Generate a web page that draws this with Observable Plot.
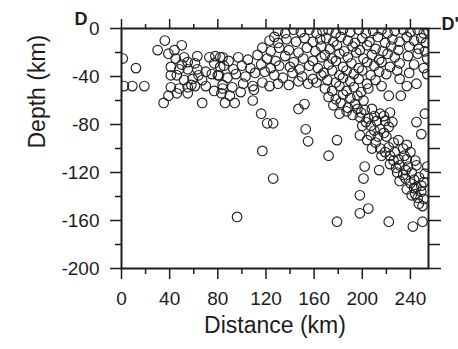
<!DOCTYPE html>
<html>
<head>
<meta charset="utf-8">
<script src="https://cdn.jsdelivr.net/npm/d3@7"></script>
<script src="https://cdn.jsdelivr.net/npm/@observablehq/plot@0.6"></script>
<style>
  html, body { margin: 0; padding: 0; background: #fff; }
  #chart { width: 458px; height: 349px; }
</style>
</head>
<body>
<div id="chart"></div>
<script>
// Tick values and labels
const xMajorTicks = [0, 40, 80, 120, 160, 200, 240];
const xMinorTicks = [20, 60, 100, 140, 180, 220];
const xTickLabels = ["0", "40", "80", "120", "160", "200", "240"];
const yMajorTicks = [0, -40, -80, -120, -160, -200];
const yMinorTicks = [-20, -60, -100, -140, -180];
const yTickLabels = ["0", "-40", "-80", "-120", "-160", "-200"];
const xTitle = "Distance (km)";
const yTitle = "Depth (km)";
const leftLabel = "D";
const rightLabel = "D'";

// Earthquake hypocentres [distance km, depth km]
const westScatter = [
  [1,-25],[12,-33],[2,-48],[9,-48],[19,-48],[36,-10],[30,-18],[50,-14],
  [35,-62],[67,-62],[86,-62],[94,-62],[109,-60],[116,-71],[121,-79],[126,-79],
  [117,-102],[126,-125],[96,-157]
];
const westCluster = [
  [39,-21],[44,-18],[45,-25],[52,-24],[55,-28],[63,-23],[61,-29],[41,-32],
  [48,-34],[55,-34],[63,-34],[73,-24],[78,-23],[84,-24],[77,-29],[82,-32],
  [41,-39],[46,-39],[52,-43],[59,-42],[64,-39],[67,-43],[75,-38],[81,-39],
  [41,-49],[48,-50],[55,-49],[61,-48],[70,-48],[77,-52],[84,-50],[46,-54],
  [55,-54],[39,-56],[50,-30],[58,-47],[70,-36]
];
const centralCluster = [
  [130,-2],[136,-4],[143,-1],[149,-3],[156,-1],[162,-4],[167,-2],[127,-7],
  [123,-10],[130,-12],[137,-9],[145,-11],[152,-8],[159,-11],[165,-9],
  [117,-16],[124,-19],[131,-16],[139,-18],[147,-20],[154,-16],[161,-19],
  [82,-24],[89,-27],[97,-24],[105,-26],[113,-22],[121,-25],[128,-27],[136,-23],
  [143,-28],[151,-25],[159,-27],[166,-24],
  [85,-31],[93,-34],[100,-31],[107,-33],[116,-30],[124,-33],[131,-31],[140,-32],
  [148,-34],[156,-31],[163,-33],
  [80,-39],[88,-41],[95,-38],[103,-40],[111,-37],[119,-36],[127,-39],[134,-41],
  [142,-37],[150,-40],[159,-42],[166,-39],
  [84,-47],[92,-49],[101,-46],[109,-48],[117,-45],[123,-48],[130,-46],[139,-47],
  [147,-44],[155,-46],[162,-45],
  [83,-54],[90,-56],[99,-53],[110,-51]
];
const eastCluster = [
  [172,-1],[178,-4],[184,-1],[190,-3],[197,-1],[203,-4],[209,-2],[216,-1],[221,-4],[227,-2],
  [234,-1],[240,-3],[246,-1],[251,-4],[255,-2],
  [170,-8],[176,-11],[182,-7],[188,-10],[194,-12],[200,-8],[206,-11],[213,-7],[219,-12],[225,-9],
  [231,-11],[237,-7],[243,-10],[249,-8],[253,-12],
  [166,-15],[173,-17],[179,-14],[185,-19],[192,-15],[198,-18],[204,-14],[211,-17],[217,-19],
  [224,-15],[230,-18],[239,-15],[247,-17],[252,-19],
  [169,-22],[175,-25],[181,-21],[188,-24],[195,-20],[201,-25],[208,-22],[214,-26],[221,-21],
  [227,-24],[238,-23],[246,-21],[254,-25],
  [172,-30],[178,-27],[184,-32],[191,-29],[197,-33],[204,-28],[210,-31],[216,-28],[223,-32],
  [231,-29],[243,-30],[251,-33],
  [168,-37],[175,-35],[181,-39],[187,-35],[193,-38],[200,-35],[207,-39],[214,-36],[220,-38],
  [229,-35],[239,-37],[254,-38],
  [171,-43],[178,-45],[184,-41],[190,-44],[197,-42],[204,-46],[211,-43],[231,-42],
  [216,-48],[237,-48],[245,-46],
  [169,-50],[175,-52],[181,-48],[187,-52],[193,-49],[199,-53],[205,-50],
  [222,-56],[232,-56],
  [172,-57],[178,-59],[184,-55],[190,-58],[196,-56],[201,-60],
  [176,-64],[182,-62],[188,-66],[194,-63],
  [181,-71],[187,-69],[192,-72]
];
const slab = [
  [196,-67],[202,-68],[208,-67],[215,-71],[223,-70],[198,-74],[205,-75],[212,-77],
  [219,-77],[225,-78],[200,-81],[207,-81],[215,-84],[222,-82],[198,-89],[207,-89],
  [213,-90],[220,-90],[230,-93],[237,-97],[208,-100],[215,-100],[222,-99],[227,-103],
  [234,-100],[240,-103],[216,-106],[223,-106],[230,-109],[237,-109],[244,-110],[223,-113],
  [231,-114],[238,-115],[245,-114],[254,-115],[229,-120],[234,-122],[241,-120],[247,-124],
  [252,-121],[231,-127],[240,-129],[245,-132],[251,-128],[237,-134],[244,-138],[249,-136],
  [241,-139],[247,-146],[251,-142],
  [199,-70],[210,-73],[218,-73],[203,-78],[210,-85],[218,-87],[204,-93],[211,-95],
  [226,-95],[219,-103],[226,-110],[235,-106],[228,-116],[236,-118],[243,-126],[236,-125],
  [249,-131],[246,-141],[243,-133],[250,-148]
];
const deepScatter = [
  [147,-67],[152,-63],[153,-84],[155,-94],[172,-106],[179,-93],[179,-161],[198,-139],
  [198,-154],[205,-150],[222,-161],[242,-165],[250,-161],[202,-115],[201,-125],[214,-118],
  [252,-71],[245,-78],[249,-88]
];

const quakes = [westScatter, westCluster, centralCluster, eastCluster, slab, deepScatter]
  .flat().map(([distance, depth]) => ({distance, depth}));

const ink = "#1c1c1c";
const fontFamily = "'Liberation Sans', Arial, Helvetica, sans-serif";

const chart = Plot.plot({
  width: 458,
  height: 349,
  marginLeft: 121,
  marginRight: 30,
  marginTop: 28,
  marginBottom: 81,
  style: {fontFamily, color: ink, background: "#fff", overflow: "visible"},
  x: {domain: [0, 255], axis: null},
  y: {domain: [-200, 0], axis: null},
  marks: [
    Plot.dot(quakes, {x: "distance", y: "depth", r: 4.8, stroke: "#222", strokeWidth: 1.15, fill: "none", clip: true}),
    // bottom axis
    Plot.axisX({anchor: "bottom", ticks: xMajorTicks, tickSize: 11, tickPadding: 12, fontSize: 19,
      tickFormat: (d, i) => xTickLabels[i], label: null, strokeWidth: 1.5}),
    Plot.axisX({anchor: "bottom", ticks: xMinorTicks, tickSize: 6, tickFormat: () => "", label: null, strokeWidth: 1.5}),
    // top axis
    Plot.axisX({anchor: "top", ticks: xMajorTicks, tickSize: 10, tickFormat: () => "", label: null, strokeWidth: 1.5}),
    Plot.axisX({anchor: "top", ticks: xMinorTicks, tickSize: 5, tickFormat: () => "", label: null, strokeWidth: 1.5}),
    // left axis
    Plot.axisY({anchor: "left", ticks: yMajorTicks, tickSize: 11, tickPadding: 11, fontSize: 19,
      tickFormat: (d, i) => yTickLabels[i], label: null, strokeWidth: 1.5}),
    Plot.axisY({anchor: "left", ticks: yMinorTicks, tickSize: 6, tickFormat: () => "", label: null, strokeWidth: 1.5}),
    // right axis
    Plot.axisY({anchor: "right", ticks: yMajorTicks, tickSize: 12, tickFormat: () => "", label: null, strokeWidth: 1.5}),
    Plot.axisY({anchor: "right", ticks: yMinorTicks, tickSize: 11, tickFormat: () => "", label: null, strokeWidth: 1.5}),
    Plot.frame({stroke: ink, strokeWidth: 2}),
    // titles
    Plot.text([xTitle], {text: d => d, frameAnchor: "bottom", dy: 64, fontSize: 23, fill: ink}),
    Plot.text([yTitle], {text: d => d, frameAnchor: "left", rotate: -90, dx: -84, fontSize: 23, fill: ink}),
    Plot.text([leftLabel], {text: d => d, frameAnchor: "top-left", dx: -47, dy: -16, fontSize: 18, fontWeight: "bold", fill: ink}),
    Plot.text([rightLabel], {text: d => d, frameAnchor: "top-right", textAnchor: "start", dx: 13, dy: -11, fontSize: 18, fontWeight: "bold", fill: ink})
  ]
});

document.getElementById("chart").appendChild(chart);
</script>
</body>
</html>
